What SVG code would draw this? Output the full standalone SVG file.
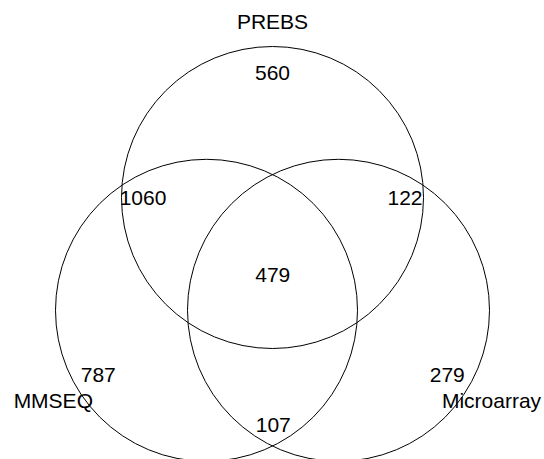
<svg xmlns="http://www.w3.org/2000/svg" width="544" height="459" viewBox="0 0 544 459">
<style>
.c{fill:none;stroke:#000;stroke-width:1}
.t{font-family:"Liberation Sans",Arial,sans-serif;font-size:21px;fill:#000;text-anchor:middle}
</style>
<rect width="544" height="459" fill="#fff"/>
<g id="PREBS">
<circle class="c" cx="272.5" cy="197.5" r="151"/>
<text class="t" x="272.5" y="29.3">PREBS</text>
</g>
<g id="MMSEQ">
<circle class="c" cx="206.5" cy="310.3" r="151"/>
<text class="t" x="53.3" y="407.7">MMSEQ</text>
</g>
<g id="Microarray">
<circle class="c" cx="338.5" cy="310.3" r="151"/>
<text class="t" x="491.5" y="407.7">Microarray</text>
</g>
<g id="counts">
<text class="t" x="272.5" y="80">560</text>
<text class="t" x="143" y="205">1060</text>
<text class="t" x="405" y="205">122</text>
<text class="t" x="272.8" y="281.7">479</text>
<text class="t" x="98.3" y="381.7">787</text>
<text class="t" x="447.3" y="381.7">279</text>
<text class="t" x="273.3" y="431.7">107</text>
</g>
<g id="connectors"></g>
</svg>
